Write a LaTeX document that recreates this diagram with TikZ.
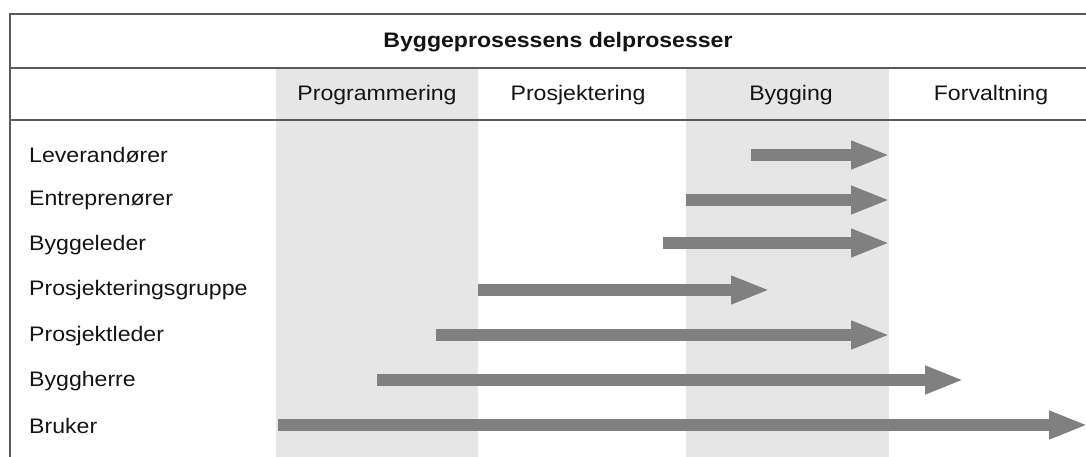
\documentclass[tikz,border=0pt]{standalone}
\usepackage{fontspec}
\setmainfont{Liberation Sans}[FakeStretch=1.1]
\usetikzlibrary{arrows.meta}
\definecolor{bandgray}{HTML}{E6E6E6}
\definecolor{arrowgray}{HTML}{808080}
\definecolor{rulegray}{HTML}{5A5A5A}
\definecolor{textdark}{HTML}{141414}
\begin{document}
\begin{tikzpicture}[x=1pt,y=-1pt,
  rulel/.style={draw=rulegray,line width=2pt},
  band/.style={fill=bandgray,draw=none},
  rowlabel/.style={anchor=west,inner sep=0pt,text=textdark,font=\fontsize{21}{24}\selectfont},
  colhead/.style={inner sep=0pt,text=textdark,font=\fontsize{21}{24}\selectfont},
  titletext/.style={inner sep=0pt,text=textdark,font=\bfseries\fontsize{21}{24}\selectfont},
  bar/.style={draw=arrowgray,line width=12pt,line cap=butt,
    -{Triangle[length=39pt,width=26pt,fill=arrowgray]}}]
\useasboundingbox (0,0) rectangle (1086,457);
% shaded columns
\fill[band] (276,69) rectangle (478,457);
\fill[band] (686,69) rectangle (889,457);
% rules
\draw[rulel] (10,14.5) -- (1086,14.5);
\draw[rulel] (10,68.5) -- (1086,68.5);
\draw[rulel] (10,120.5) -- (1086,120.5);
\draw[rulel] (10,13.5) -- (10,457);
% title and headers
\node[titletext] (title) at (558,42) {Byggeprosessens delprosesser};
\node[colhead] (hprog) at (377,95) {Programmering};
\node[colhead] (hpros) at (578,95) {Prosjektering};
\node[colhead] (hbygg) at (791,95) {Bygging};
\node[colhead] (hforv) at (991,95) {Forvaltning};
% row labels
\node[rowlabel] (lev) at (29,155) {Leverandører};
\node[rowlabel] (ent) at (29,200) {Entreprenører};
\node[rowlabel] (byl) at (29,245) {Byggeleder};
\node[rowlabel] (pgr) at (29,290) {Prosjekteringsgruppe};
\node[rowlabel] (pld) at (29,336) {Prosjektleder};
\node[rowlabel] (bhe) at (29,381) {Byggherre};
\node[rowlabel] (bru) at (29,426) {Bruker};
% arrow ends
\coordinate (levs) at (751,155); \coordinate (leve) at (890,155);
\coordinate (ents) at (686,200); \coordinate (ente) at (890,200);
\coordinate (byls) at (663,243); \coordinate (byle) at (890,243);
\coordinate (pgrs) at (478,290); \coordinate (pgre) at (770,290);
\coordinate (plds) at (436,335); \coordinate (plde) at (890,335);
\coordinate (bhes) at (377,380); \coordinate (bhee) at (964,380);
\coordinate (brus) at (278,425); \coordinate (brue) at (1088,425);
\draw[bar] (levs) -- (leve);
\draw[bar] (ents) -- (ente);
\draw[bar] (byls) -- (byle);
\draw[bar] (pgrs) -- (pgre);
\draw[bar] (plds) -- (plde);
\draw[bar] (bhes) -- (bhee);
\draw[bar] (brus) -- (brue);
\end{tikzpicture}
\end{document}
